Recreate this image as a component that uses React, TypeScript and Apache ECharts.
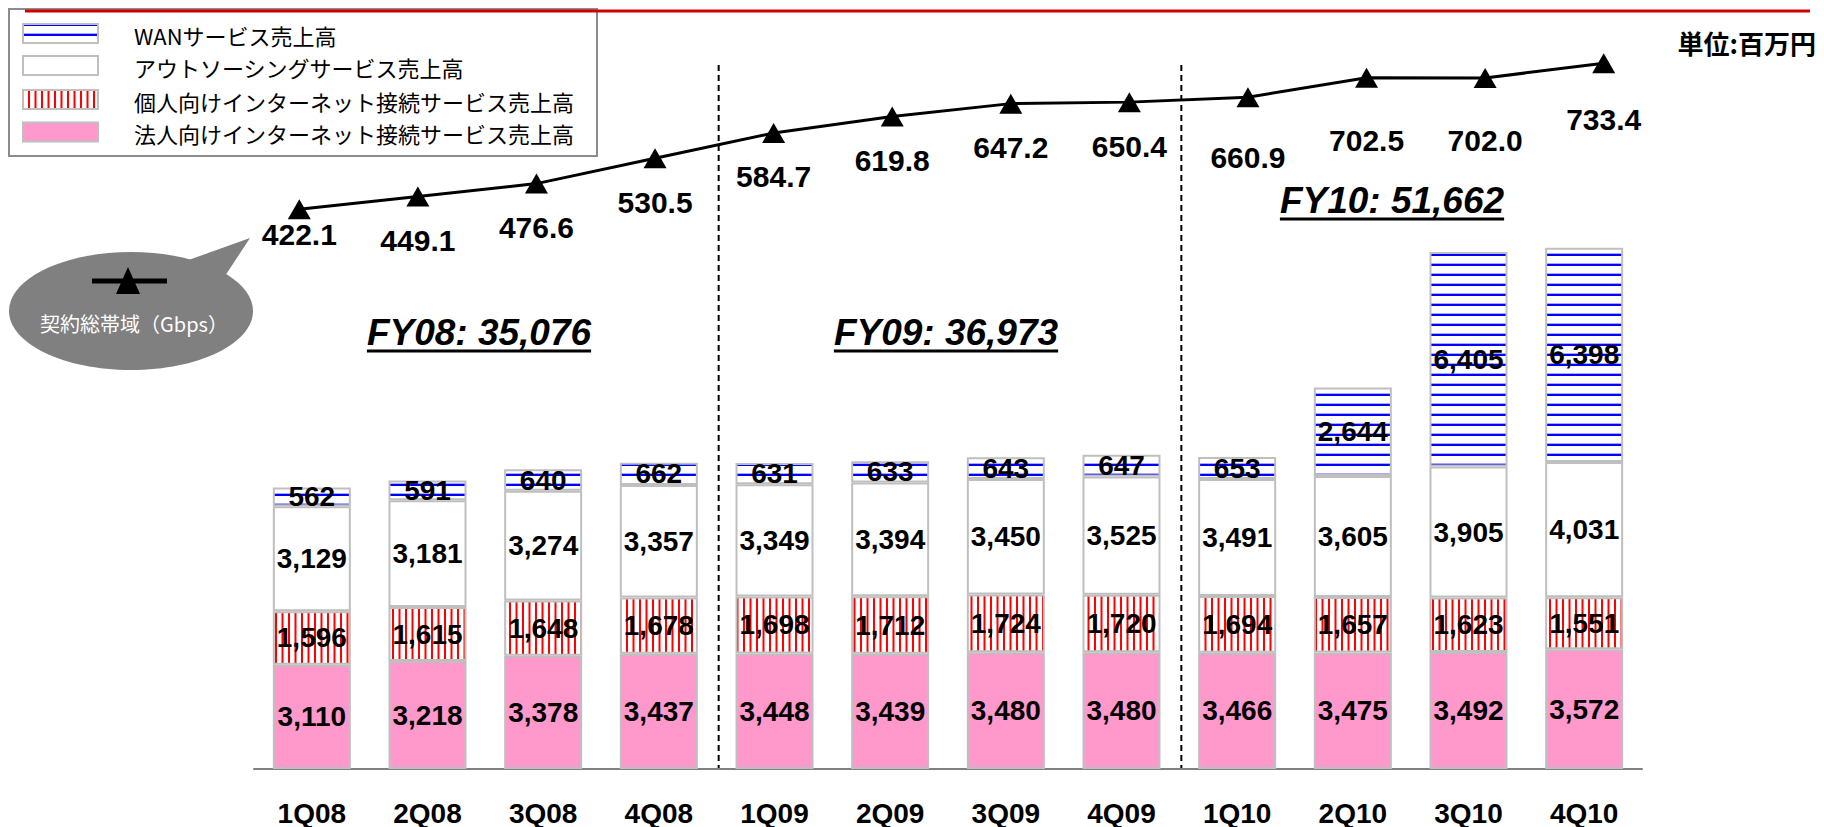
import React, { useEffect, useRef } from "react";
import * as echarts from "echarts";

// ---------------- data ----------------
const categories = ["1Q08", "2Q08", "3Q08", "4Q08", "1Q09", "2Q09", "3Q09", "4Q09", "1Q10", "2Q10", "3Q10", "4Q10"];
const corporateSales = [3110, 3218, 3378, 3437, 3448, 3439, 3480, 3480, 3466, 3475, 3492, 3572];
const individualSales = [1596, 1615, 1648, 1678, 1698, 1712, 1724, 1720, 1694, 1657, 1623, 1551];
const outsourcingSales = [3129, 3181, 3274, 3357, 3349, 3394, 3450, 3525, 3491, 3605, 3905, 4031];
const wanSales = [562, 591, 640, 662, 631, 633, 643, 647, 653, 2644, 6405, 6398];
const bandwidthGbps = [422.1, 449.1, 476.6, 530.5, 584.7, 619.8, 647.2, 650.4, 660.9, 702.5, 702.0, 733.4];
const seriesNames = [
  "WANサービス売上高",
  "アウトソーシングサービス売上高",
  "個人向けインターネット接続サービス売上高",
  "法人向けインターネット接続サービス売上高",
];
const fiscalYears = ["FY08", "FY09", "FY10"];
const unitLabel = "単位:百万円";
const bubbleLabel = "契約総帯域（Gbps）";

// ---------------- layout / style ----------------
const W = 1824;
const H = 827;
const LATIN = '"Liberation Sans", Arial, "Noto Sans CJK JP", sans-serif';
const CJK = '"Noto Sans CJK JP", "Liberation Sans", sans-serif';
const GRID_LEFT = 254;
const GRID_RIGHT = 182;
const GRID_TOP = 65;
const GRID_BOTTOM = 57;
const CAT_W = (W - GRID_LEFT - GRID_RIGHT) / categories.length;
const FY_POS = [
  [479, 332],
  [946, 332],
  [1392, 200],
];
// gap between each triangle marker and its value label (style, per point)
const LINE_LABEL_GAP = [0, 19, 19, 19, 19, 19, 19, 19, 35, 38, 38, 31];

function makeRedStripes() {
  const c = document.createElement("canvas");
  c.width = 13;
  c.height = 8;
  const ctx = c.getContext("2d")!;
  ctx.fillStyle = "#ffffff";
  ctx.fillRect(0, 0, 13, 8);
  ctx.fillStyle = "#ff0000";
  ctx.fillRect(2, 0, 2, 8);
  ctx.fillRect(8.5, 0, 2, 8);
  return { image: c, repeat: "repeat", imageWidth: 13, imageHeight: 8 } as any;
}

function makeBlueLines() {
  const c = document.createElement("canvas");
  c.width = 8;
  c.height = 10;
  const ctx = c.getContext("2d")!;
  ctx.fillStyle = "#ffffff";
  ctx.fillRect(0, 0, 8, 10);
  ctx.fillStyle = "#a8a8ff";
  ctx.fillRect(0, 3, 8, 1);
  ctx.fillStyle = "#0000ff";
  ctx.fillRect(0, 4, 8, 2);
  return { image: c, repeat: "repeat", imageWidth: 8, imageHeight: 10 } as any;
}

function measure(text: string, font: string) {
  const c = document.createElement("canvas");
  const ctx = c.getContext("2d")!;
  ctx.font = font;
  return ctx.measureText(text).width;
}

const sum = (a: number[], from: number, to: number) => a.slice(from, to).reduce((s, v) => s + v, 0);

export default function App() {
  const ref = useRef<HTMLDivElement>(null);

  useEffect(() => {
    if (!ref.current) return;
    const chart = echarts.init(ref.current, null, { renderer: "svg" });

    const redPattern = makeRedStripes();
    const bluePattern = makeBlueLines();
    const fills = [bluePattern, "#ffffff", redPattern, "#ff99cc"];

    const barLabel = {
      show: true,
      position: "inside",
      fontSize: 28,
      fontWeight: "bold",
      fontFamily: LATIN,
      color: "#000",
      formatter: (p: any) => Number(p.value).toLocaleString("en-US"),
    };
    const borderStyle = { borderColor: "#bfbfbf", borderWidth: 2 };

    const barSeries = [
      { name: seriesNames[3], data: corporateSales, color: fills[3] },
      { name: seriesNames[2], data: individualSales, color: fills[2] },
      { name: seriesNames[1], data: outsourcingSales, color: fills[1] },
      { name: seriesNames[0], data: wanSales, color: fills[0] },
    ].map((s) => ({
      type: "bar",
      name: s.name,
      stack: "sales",
      barWidth: 78,
      xAxisIndex: 0,
      yAxisIndex: 0,
      data: s.data,
      itemStyle: { color: s.color, ...borderStyle },
      label: barLabel,
      emphasis: { disabled: true },
    }));

    // FY totals computed from the quarterly data
    const fyTotals = fiscalYears.map((_, i) => {
      const a = i * 4;
      const b = a + 4;
      return sum(corporateSales, a, b) + sum(individualSales, a, b) + sum(outsourcingSales, a, b) + sum(wanSales, a, b);
    });

    const graphic: any[] = [];

    // legend box
    graphic.push({
      type: "rect",
      shape: { x: 9, y: 9, width: 588, height: 147 },
      style: { fill: "#ffffff", stroke: "#8c8c8c", lineWidth: 2 },
      z: 10,
    });
    graphic.push({
      type: "line",
      shape: { x1: 25, y1: 11, x2: 1810, y2: 11 },
      style: { stroke: "#d00000", lineWidth: 3 },
      z: 11,
    });
    const rowY = [33.5, 65.5, 99.5, 132];
    seriesNames.forEach((n, i) => {
      graphic.push({
        type: "rect",
        shape: { x: 23, y: rowY[i] - 9.5, width: 75, height: 19 },
        style: { fill: fills[i], stroke: "#bfbfbf", lineWidth: 2 },
        z: 12,
      });
      graphic.push({
        type: "text",
        x: 134,
        y: rowY[i] + 1,
        style: { text: n, fontSize: 22, fontFamily: CJK, fill: "#000", align: "left", verticalAlign: "middle" },
        z: 12,
      });
    });

    // unit label
    graphic.push({
      type: "text",
      x: 1816,
      y: 42,
      style: { text: unitLabel, fontSize: 26, fontWeight: "bold", fontFamily: CJK, fill: "#000", align: "right", verticalAlign: "middle" },
    });

    // fiscal-year separators
    [4, 8].forEach((k) => {
      const x = GRID_LEFT + k * CAT_W + 2;
      graphic.push({
        type: "line",
        shape: { x1: x, y1: 65, x2: x, y2: H - GRID_BOTTOM },
        style: { stroke: "#000", lineWidth: 2, lineDash: [6, 4] },
      });
    });

    // FY labels
    const fyFont = `italic bold 37px "Liberation Sans"`;
    fiscalYears.forEach((fy, i) => {
      const text = `${fy}: ${fyTotals[i].toLocaleString("en-US")}`;
      const [x, y] = FY_POS[i];
      const w = measure(text, fyFont);
      graphic.push({
        type: "text",
        x,
        y,
        style: {
          text,
          fontSize: 37,
          fontStyle: "italic",
          fontWeight: "bold",
          fontFamily: LATIN,
          fill: "#000",
          align: "center",
          verticalAlign: "middle",
        },
      });
      graphic.push({
        type: "line",
        shape: { x1: x - w / 2, y1: y + 19, x2: x + w / 2, y2: y + 19 },
        style: { stroke: "#000", lineWidth: 3 },
      });
    });

    // speech bubble
    graphic.push({
      type: "group",
      children: [
        { type: "ellipse", shape: { cx: 131, cy: 311, rx: 122, ry: 59 }, style: { fill: "#808080" } },
        {
          type: "polygon",
          shape: { points: [[183, 262], [250, 238], [225, 276]] },
          style: { fill: "#808080" },
        },
        { type: "line", shape: { x1: 92, y1: 281, x2: 167, y2: 281 }, style: { stroke: "#000", lineWidth: 5 } },
        {
          type: "polygon",
          shape: { points: [[128, 267], [116, 294], [140, 294]] },
          style: { fill: "#000" },
        },
        {
          type: "text",
          x: 134,
          y: 323,
          style: { text: bubbleLabel, fontSize: 20, fontFamily: CJK, fill: "#fff", align: "center", verticalAlign: "middle" },
        },
      ],
    });

    const option: any = {
      animation: false,
      backgroundColor: "#ffffff",
      grid: [
        { left: GRID_LEFT, right: GRID_RIGHT, top: GRID_TOP, bottom: GRID_BOTTOM },
        { left: 240, right: 161, top: 32, bottom: 420 },
      ],
      xAxis: [
        {
          type: "category",
          gridIndex: 0,
          data: categories,
          axisLine: { lineStyle: { color: "#808080", width: 2 } },
          axisTick: { show: false },
          axisLabel: { fontSize: 28, fontWeight: "bold", fontFamily: LATIN, color: "#000", margin: 30 },
        },
        { type: "category", gridIndex: 1, data: categories, show: false },
      ],
      yAxis: [
        { type: "value", gridIndex: 0, min: 0, max: 21000, show: false, splitLine: { show: false } },
        { type: "value", gridIndex: 1, min: 0, max: 800, show: false, splitLine: { show: false } },
      ],
      series: [
        ...barSeries,
        {
          type: "line",
          name: "契約総帯域",
          xAxisIndex: 1,
          yAxisIndex: 1,
          data: bandwidthGbps.map((v, i) => ({ value: v, label: { distance: LINE_LABEL_GAP[i] } })),
          symbol: "triangle",
          symbolSize: [23, 20],
          lineStyle: { color: "#000", width: 3 },
          itemStyle: { color: "#000" },
          label: {
            show: true,
            position: "bottom",
            distance: 19,
            fontSize: 30,
            fontWeight: "bold",
            fontFamily: LATIN,
            color: "#000",
            formatter: (p: any) => Number(p.value).toFixed(1),
          },
          emphasis: { disabled: true },
          z: 5,
        },
      ],
      graphic,
    };

    chart.setOption(option);
    return () => chart.dispose();
  }, []);

  return (
    <div
      ref={ref}
      style={{ position: "absolute", left: 0, top: 0, width: W, height: H, background: "#fff" }}
    />
  );
}
